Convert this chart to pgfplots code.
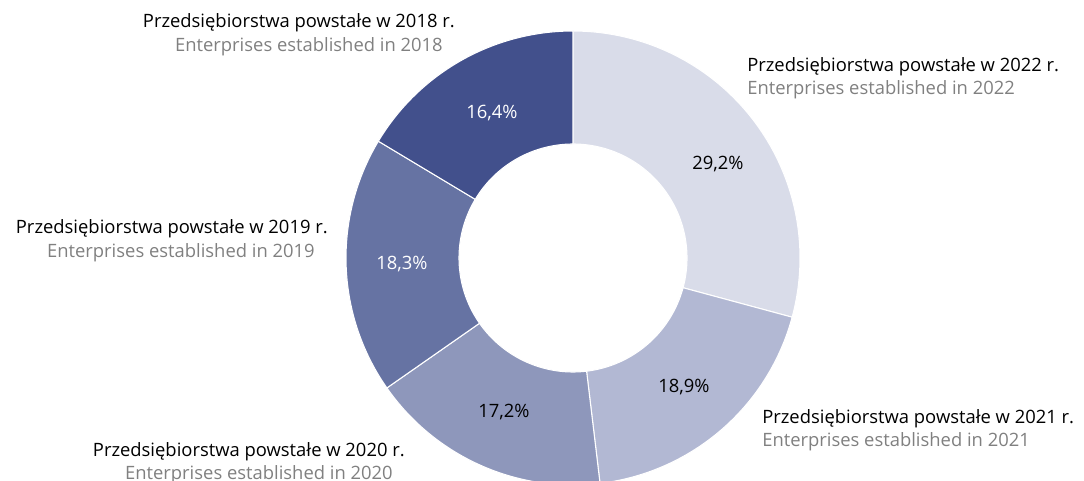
\documentclass[border=0pt]{standalone}
\usepackage{pgfplots}
\pgfplotsset{compat=1.18}
\usepackage{pgfplotstable}
\usepackage{fontspec}
\setmainfont{Open Sans}
\definecolor{seg0}{HTML}{D9DCE9}
\definecolor{seg1}{HTML}{B2B8D3}
\definecolor{seg2}{HTML}{8E97BB}
\definecolor{seg3}{HTML}{6673A3}
\definecolor{seg4}{HTML}{42508C}
\definecolor{engray}{HTML}{808080}
\pgfplotstableread{
year pct start
2022 29.2 0
2021 18.9 29.2
2020 17.2 48.1
2019 18.3 65.3
2018 16.4 83.6
}\donut
\newcommand{\lf}{\fontsize{13.8}{16}\selectfont}
\begin{document}
\begin{tikzpicture}
\begin{axis}[name=ax, scale only axis, width=813pt, height=360.75pt,
  xmin=0, xmax=1084, ymin=-481, ymax=0, hide axis, clip=false]
\pgfplotsforeachungrouped \i in {0,...,4}{%
  \pgfplotstablegetelem{\i}{start}\of\donut \let\s\pgfplotsretval
  \pgfplotstablegetelem{\i}{pct}\of\donut \let\p\pgfplotsretval
  \pgfmathsetmacro\a{90-3.6*\s}%
  \pgfmathsetmacro\b{90-3.6*(\s+\p)}%
  \edef\temp{\noexpand\addplot[fill=seg\i, draw=white, line width=0.8pt, line join=round,
      variable=\noexpand\t,
      samples at={0,0.01,...,0.99,1,2,2.01,...,2.99,3}]
    ({573+(\noexpand\t<1.5 ? 227 : 114)*cos(\noexpand\t<1.5 ? (\a)+((\b)-(\a))*\noexpand\t : (\b)+((\a)-(\b))*(\noexpand\t-2))},
     {-258+(\noexpand\t<1.5 ? 227 : 114)*sin(\noexpand\t<1.5 ? (\a)+((\b)-(\a))*\noexpand\t : (\b)+((\a)-(\b))*(\noexpand\t-2))}) -- cycle;}%
  \temp
}
% percentage labels
\node[anchor=base, font=\lf, text=black, inner sep=0] at (axis cs:718,-170) {29,2\%};
\node[anchor=base, font=\lf, text=black, inner sep=0] at (axis cs:684,-393) {18,9\%};
\node[anchor=base, font=\lf, text=black, inner sep=0] at (axis cs:504,-418) {17,2\%};
\node[anchor=base, font=\lf, text=white, inner sep=0] at (axis cs:402,-270) {18,3\%};
\node[anchor=base, font=\lf, text=white, inner sep=0] at (axis cs:492,-119) {16,4\%};
% category labels
\node[anchor=base east, font=\lf, inner sep=0] at (axis cs:455,-28) {Przedsiębiorstwa powstałe w 2018 r.};
\node[anchor=base east, font=\lf, text=engray, inner sep=0] at (axis cs:443,-52) {Enterprises established in 2018};
\node[anchor=base west, font=\lf, inner sep=0] at (axis cs:747,-72) {Przedsiębiorstwa powstałe w 2022 r.};
\node[anchor=base west, font=\lf, text=engray, inner sep=0] at (axis cs:747,-95) {Enterprises established in 2022};
\node[anchor=base east, font=\lf, inner sep=0] at (axis cs:328,-234) {Przedsiębiorstwa powstałe w 2019 r.};
\node[anchor=base east, font=\lf, text=engray, inner sep=0] at (axis cs:315,-257.5) {Enterprises established in 2019};
\node[anchor=base east, font=\lf, inner sep=0] at (axis cs:405,-457) {Przedsiębiorstwa powstałe w 2020 r.};
\node[anchor=base east, font=\lf, text=engray, inner sep=0] at (axis cs:393,-480) {Enterprises established in 2020};
\node[anchor=base west, font=\lf, inner sep=0] at (axis cs:762,-424) {Przedsiębiorstwa powstałe w 2021 r.};
\node[anchor=base west, font=\lf, text=engray, inner sep=0] at (axis cs:762,-446.7) {Enterprises established in 2021};
\end{axis}
\pgfresetboundingbox
\path[use as bounding box] (ax.south west) rectangle (ax.north east);
\end{tikzpicture}
\end{document}
